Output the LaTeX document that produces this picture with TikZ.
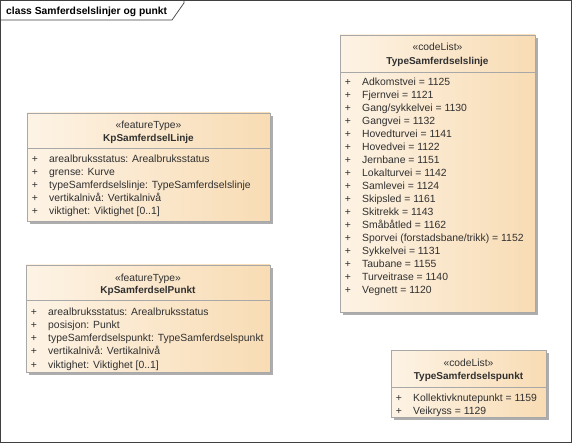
\documentclass[tikz,border=0pt]{standalone}
\usepackage{fontspec}
\setmainfont{Liberation Sans}
\usetikzlibrary{shadows}
\definecolor{boxL}{HTML}{FDF3E5}
\definecolor{boxR}{HTML}{F8DCB4}
\definecolor{boxB}{HTML}{A8A8A8}
\definecolor{shad}{HTML}{ADADAD}
\definecolor{txt}{HTML}{303030}
\begin{document}
\begin{tikzpicture}[x=1pt,y=-1pt,
  umlbox/.style={draw=boxB, line width=0.9pt, left color=boxL, right color=boxR,
    anchor=north west, inner sep=0pt, outer sep=0pt,
    drop shadow={shadow xshift=3pt, shadow yshift=-3pt, fill=shad, opacity=1}},
  hd/.style={font=\fontsize{10.3}{12}\selectfont, text=txt, inner sep=0pt, anchor=base},
  nm/.style={font=\fontsize{10}{12}\selectfont\bfseries, text=txt, inner sep=0pt, anchor=base},
  it/.style={font=\fontsize{10.4}{12}\selectfont, text=txt, inner sep=0pt, anchor=base west},
  pl/.style={font=\fontsize{10.4}{12}\selectfont, text=txt, inner sep=0pt, anchor=base},
  sep/.style={draw=boxB, line width=0.9pt}]
\useasboundingbox (0,0) rectangle (572,443);
% frame
\draw[draw=black!75, line width=0.7pt] (0.5,0.5) rectangle (571.5,442.5);
\draw[draw=black!75, line width=0.7pt] (0.5,20) -- (172,20) -- (184,3) -- (184,0.5);
\node[font=\fontsize{10.3}{12}\selectfont\bfseries, text=black, inner sep=0pt, anchor=base west] (ttl) at (6,15) {class Samferdselslinjer og punkt};

% KpSamferdselLinje
\node[umlbox, minimum width=243pt, minimum height=108pt] (c1) at (27,113) {};
\draw[sep] (27,148) -- (270,148);
\node[hd] (c1s) at (148.5,129) {«featureType»};
\node[nm] (c1n) at (148.5,142) {KpSamferdselLinje};
\foreach \t [count=\i] in {arealbruksstatus: Arealbruksstatus, grense: Kurve, typeSamferdselslinje: TypeSamferdselslinje, vertikalnivå: Vertikalnivå, viktighet: Viktighet [0..1]}{
  \node[pl] (c1p\i) at (35,{149+13.2*\i}) {+};
  \node[it] (c1a\i) at (49,{149+13.2*\i}) {\t};
}

% KpSamferdselPunkt
\node[umlbox, minimum width=244pt, minimum height=107pt] (c2) at (26,265) {};
\draw[sep] (26,300) -- (270,300);
\node[hd] (c2s) at (148,281) {«featureType»};
\node[nm] (c2n) at (148,294) {KpSamferdselPunkt};
\foreach \t [count=\i] in {arealbruksstatus: Arealbruksstatus, posisjon: Punkt, typeSamferdselspunkt: TypeSamferdselspunkt, vertikalnivå: Vertikalnivå, viktighet: Viktighet [0..1]}{
  \node[pl] (c2p\i) at (34,{302+13.2*\i}) {+};
  \node[it] (c2a\i) at (48,{302+13.2*\i}) {\t};
}

% TypeSamferdselslinje
\node[umlbox, minimum width=195pt, minimum height=277pt] (c3) at (340,35) {};
\draw[sep] (340,72) -- (535,72);
\node[hd] (c3s) at (437.5,51) {«codeList»};
\node[nm] (c3n) at (437.5,65) {TypeSamferdselslinje};
\foreach \t [count=\i] in {Adkomstvei = 1125, Fjernvei = 1121, Gang/sykkelvei = 1130, Gangvei = 1132, Hovedturvei = 1141, Hovedvei = 1122, Jernbane = 1151, Lokalturvei = 1142, Samlevei = 1124, Skipsled = 1161, Skitrekk = 1143, Småbåtled = 1162, Sporvei (forstadsbane/trikk) = 1152, Sykkelvei = 1131, Taubane = 1155, Turveitrase = 1140, Vegnett = 1120}{
  \node[pl] (c3p\i) at (348,{73+12.95*\i}) {+};
  \node[it] (c3a\i) at (362,{73+12.95*\i}) {\t};
}

% TypeSamferdselspunkt
\node[umlbox, minimum width=155pt, minimum height=67pt] (c4) at (391,350) {};
\draw[sep] (391,387) -- (546,387);
\node[hd] (c4s) at (468.5,366) {«codeList»};
\node[nm] (c4n) at (468.5,379) {TypeSamferdselspunkt};
\foreach \t [count=\i] in {Kollektivknutepunkt = 1159, Veikryss = 1129}{
  \node[pl] (c4p\i) at (399,{388+13*\i}) {+};
  \node[it] (c4a\i) at (413,{388+13*\i}) {\t};
}
\end{tikzpicture}
\end{document}
